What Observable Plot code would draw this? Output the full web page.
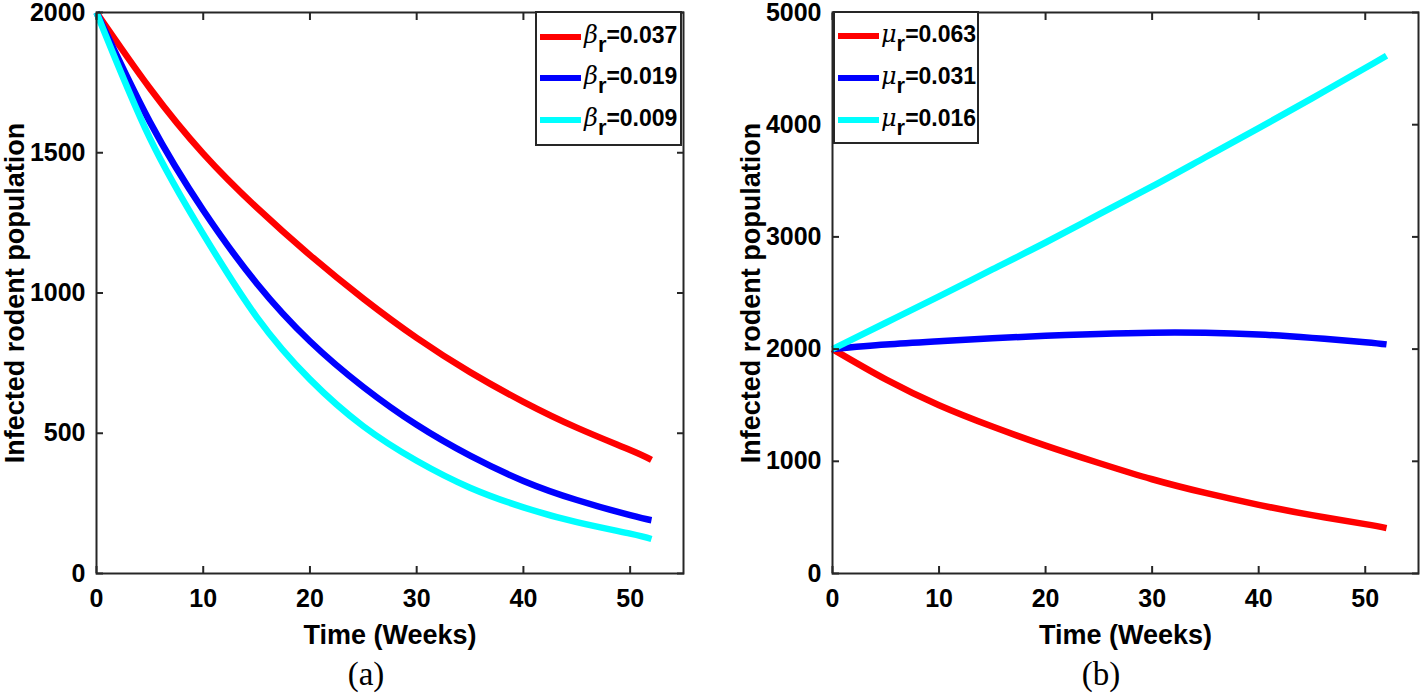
<!DOCTYPE html>
<html>
<head>
<meta charset="utf-8">
<script src="https://cdn.jsdelivr.net/npm/d3@7"></script>
<script src="https://cdn.jsdelivr.net/npm/@observablehq/plot@0.6"></script>
<style>
  html, body { margin: 0; padding: 0; background: #fff; }
  #wrap { position: relative; width: 1424px; height: 700px; overflow: hidden;
          font-family: "Liberation Sans", Arial, Helvetica, sans-serif; }
  .panel { position: absolute; top: 0; }
  .legend { position: absolute; box-sizing: border-box; border: 2px solid #262626; background: #fff; }
  .lrow { position: absolute; white-space: nowrap; font-size: 23px; font-weight: bold; color: #000; line-height: 1; }
  .lline { position: absolute; height: 6px; }
  .g { font-style: italic; font-weight: normal; font-family: "DejaVu Serif", serif; font-size: 24px; }
  .s { position: relative; top: 0.42em; font-size: 0.95em; }
  .cap { position: absolute; font-family: "Liberation Serif", "DejaVu Serif", serif; font-size: 33px; transform: translateX(-50%); }
</style>
</head>
<body>
<div id="wrap"></div>
<script>
// ---- data ----
const weeks = [0, 5, 10, 15, 20, 25, 30, 35, 40, 45, 50, 52];

// panel (a): varying beta_r
const betaLabels = ["0.037", "0.019", "0.009"];
const betaRed  = [2000, 1730, 1497, 1305, 1135, 980, 840, 718, 612, 520, 440, 405];
const betaBlue = [2000, 1610, 1295, 1035, 828, 665, 530, 420, 330, 262, 208, 190];
const betaCyan = [2000, 1552, 1210, 915, 692, 525, 402, 306, 236, 183, 142, 123];

// panel (b): varying mu_r
const muLabels = ["0.063", "0.031", "0.016"];
const muRed  = [2000, 1730, 1500, 1310, 1140, 985, 840, 718, 612, 520, 440, 405];
const muBlue = [2000, 2040, 2070, 2097, 2118, 2135, 2146, 2145, 2130, 2100, 2062, 2042];
const muCyan = [2000, 2235, 2470, 2710, 2950, 3200, 3450, 3710, 3970, 4235, 4505, 4615];

const xTicks = [0, 10, 20, 30, 40, 50];
const yTicksA = [0, 500, 1000, 1500, 2000];
const yTicksB = [0, 1000, 2000, 3000, 4000, 5000];
const colors = ["#ff0000", "#0000ff", "#00ffff"];

const axisColor = "#262626";
const fmt = d => String(d);
const none = () => "";

function makePanel({yDomain, yTicks, series, marginLeft, marginRight, width}) {
  const lines = series.map((vals, k) =>
    Plot.line(weeks, {x: d => d, y: (d, i) => vals[i], stroke: colors[k], strokeWidth: 6.5,
      curve: "natural", strokeLinecap: "butt", strokeLinejoin: "round"}));
  const tk = {strokeWidth: 2, stroke: axisColor, fill: "#000", fontSize: 25, fontWeight: "bold"};
  const lb = {tickSize: 0, strokeWidth: 0, fill: "#000", fontSize: 27, fontWeight: "bold", tickFormat: none,
              labelAnchor: "center", labelArrow: "none"};
  return Plot.plot({
    width, height: 650,
    marginTop: 12, marginBottom: 77, marginLeft, marginRight,
    style: {fontFamily: '"Liberation Sans", Arial, sans-serif', fontSize: "25px", fontWeight: "bold",
            background: "transparent", overflow: "visible", color: "#000"},
    x: {domain: [0, 55]},
    y: {domain: yDomain},
    marks: [
      ...lines,
      Plot.frame({stroke: axisColor, strokeWidth: 2}),
      Plot.axisX(xTicks, {...tk, anchor: "bottom", tickSize: -7, tickPadding: 23, tickFormat: fmt, label: null}),
      Plot.axisX(xTicks, {...tk, anchor: "top", tickSize: -7, tickFormat: none, label: null}),
      Plot.axisY(yTicks, {...tk, anchor: "left", tickSize: -7, tickPadding: 18, tickFormat: fmt, label: null}),
      Plot.axisY(yTicks, {...tk, anchor: "right", tickSize: -7, tickFormat: none, label: null}),
      Plot.axisX([], {...lb, anchor: "bottom", label: "Time (Weeks)", labelOffset: 70}),
      Plot.axisY([], {...lb, anchor: "left", label: "Infected rodent population", labelOffset: 92})
    ]
  });
}

const wrap = document.getElementById("wrap");

function addPanel(left, svg) {
  const d = document.createElement("div");
  d.className = "panel";
  d.style.left = left + "px";
  d.appendChild(svg);
  wrap.appendChild(d);
}

function addLegend({left, top, w, h, sym, labels, rowsY, lineX0, lineX1, textX}) {
  const box = document.createElement("div");
  box.className = "legend";
  Object.assign(box.style, {left: left + "px", top: top + "px", width: w + "px", height: h + "px"});
  wrap.appendChild(box);
  labels.forEach((lab, k) => {
    const ln = document.createElement("div");
    ln.className = "lline";
    Object.assign(ln.style, {left: lineX0 + "px", top: (rowsY[k] - 3) + "px", width: (lineX1 - lineX0) + "px", background: colors[k]});
    wrap.appendChild(ln);
    const t = document.createElement("div");
    t.className = "lrow";
    t.style.left = textX + "px";
    t.style.top = (rowsY[k] - 14) + "px";
    t.innerHTML = `<span class="g">${sym}</span><span class="s">r</span>=${lab}`;
    wrap.appendChild(t);
  });
}

function addCaption(text, cx, top) {
  const c = document.createElement("div");
  c.className = "cap";
  c.style.left = cx + "px";
  c.style.top = top + "px";
  c.textContent = text;
  wrap.appendChild(c);
}

addPanel(0, makePanel({yDomain: [0, 2000], yTicks: yTicksA, series: [betaRed, betaBlue, betaCyan],
  marginLeft: 96, marginRight: 29, width: 712}));
addPanel(712, makePanel({yDomain: [0, 5000], yTicks: yTicksB, series: [muRed, muBlue, muCyan],
  marginLeft: 120, marginRight: 6, width: 712}));

addLegend({left: 535, top: 11, w: 147, h: 135, sym: "β", labels: betaLabels, rowsY: [37, 78, 120],
  lineX0: 540, lineX1: 581, textX: 584});
addLegend({left: 833, top: 11, w: 146, h: 133, sym: "μ", labels: muLabels, rowsY: [36, 78, 120],
  lineX0: 838, lineX1: 879, textX: 881});

addCaption("(a)", 366, 656);
addCaption("(b)", 1101, 656);
</script>
</body>
</html>
